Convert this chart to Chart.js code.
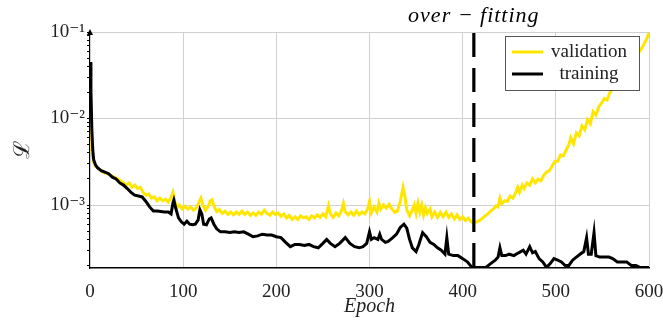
<!DOCTYPE html>
<html>
<head>
<meta charset="utf-8">
<script src="https://cdn.jsdelivr.net/npm/chart.js@4.4.1/dist/chart.umd.min.js"></script>
<style>
  html, body { margin: 0; padding: 0; background: #fff; }
  canvas { display: block; }
</style>
</head>
<body>
<canvas id="chart" width="663" height="324"></canvas>
<script>
// validation loss
const valEpochs = [
  0, 1, 2, 3, 4, 6, 10, 14, 18, 22,
  26, 30, 33, 36, 39, 42, 45, 48, 51, 54,
  57, 60, 63, 66, 69, 72, 75, 78, 81, 84,
  87, 89, 91, 93, 96, 99, 102, 105, 108, 111,
  114, 117, 119, 121, 124, 127, 129, 131, 133, 136,
  139, 142, 145, 148, 151, 154, 157, 160, 163, 166,
  169, 172, 175, 178, 181, 184, 187, 190, 193, 196,
  199, 202, 205, 208, 211, 214, 217, 220, 223, 226,
  229, 232, 235, 238, 241, 244, 247, 250, 253, 256,
  258, 261, 264, 267, 270, 272, 274, 277, 280, 283,
  286, 289, 292, 295, 298, 300, 302, 305, 308, 310,
  312, 315, 318, 321, 324, 327, 330, 333, 336, 338,
  340, 343, 346, 348, 350, 352, 354, 356, 358, 360,
  362, 365, 367, 370, 373, 376, 379, 382, 385, 388,
  391, 394, 397, 400, 403, 406, 409, 412, 415, 418,
  421, 424, 427, 430, 433, 436, 438, 440, 442, 445,
  448, 451, 454, 457, 459, 461, 464, 466, 469, 472,
  475, 478, 481, 484, 487, 490, 493, 496, 499, 502,
  505, 508, 511, 514, 516, 519, 522, 525, 528, 531,
  534, 537, 540, 543, 546, 549, 552, 555, 558, 561,
  564, 567, 570, 573, 576, 579, 582, 585, 588, 591,
  594, 597, 600
];
const valLoss = [
  .0077, .0056, .0043, .0035, .0031, .0028, .0026, .0024, .0023, .0022,
  .0021, .0020, .0019, .0018, .0017, .0018, .0016, .0017, .00155, .0016,
  .0014, .0013, .00134, .0012, .00124, .00112, .0012, .00112, .00117, .00108,
  .00122, .0014, .0011, .00092, .001, .0009, .00097, .0009, .00095, .00087,
  .00092, .00108, .0012, .001, .00087, .00097, .00112, .00115, .00097, .00084,
  .00088, .0008, .00085, .00078, .00083, .00077, .00083, .00078, .00085, .00078,
  .00083, .00076, .00081, .00076, .00083, .00078, .00087, .0008, .00076, .00083,
  .00078, .00081, .00074, .00079, .00071, .00076, .00068, .00073, .00068, .00075,
  .00071, .00073, .00068, .00075, .00071, .00077, .00072, .00079, .00073, .00098,
  .00079, .00072, .00081, .00075, .00086, .00104, .00083, .00077, .00083, .00076,
  .00085, .00077, .00083, .00079, .0009, .0011, .00081, .00095, .00083, .00105,
  .0009, .001, .00092, .00102, .0009, .00082, .00085, .0011, .0016, .00125,
  .00088, .00075, .00088, .001, .0008, .00105, .00083, .001, .00077, .00093,
  .0008, .0009, .00073, .00083, .00072, .00082, .00073, .00083, .00072, .00079,
  .00069, .00077, .00068, .00073, .00066, .0007, .00064, .00062, .00064, .00066,
  .0007, .00075, .00079, .00085, .0009, .00098, .00095, .0012, .00103, .00112,
  .0011, .00127, .0012, .0014, .0016, .0014, .0017, .00155, .0018, .0017,
  .002, .0018, .002, .0019, .0022, .0024, .0025, .0028, .0032, .0032,
  .0038, .0037, .0043, .005, .006, .0051, .0068, .0063, .0082, .0074,
  .0097, .0087, .012, .011, .0136, .015, .017, .0164, .020, .022,
  .0244, .0264, .030, .0327, .0364, .0394, .045, .0488, .0557, .0619,
  .0708, .0809, .098
];

// training loss
const trainEpochs = [
  0, 1, 2, 3, 4, 6, 8, 12, 16, 20,
  24, 28, 32, 36, 40, 44, 48, 52, 56, 60,
  64, 68, 72, 76, 80, 84, 87, 89, 90, 92,
  95, 98, 101, 104, 107, 110, 113, 116, 118, 120,
  122, 125, 128, 130, 133, 136, 140, 145, 150, 155,
  160, 165, 170, 175, 180, 185, 190, 195, 200, 205,
  210, 215, 220, 225, 230, 235, 240, 245, 250, 254,
  258, 263, 268, 274, 279, 284, 289, 293, 297, 300,
  302, 305, 309, 311, 313, 317, 320, 325, 329, 333,
  337, 340, 343, 346, 350, 353, 357, 361, 365, 369,
  373, 377, 381, 383, 385, 390, 395, 400, 405, 410,
  415, 420, 425, 430, 435, 438, 440, 442, 446, 450,
  455, 460, 465, 468, 472, 475, 478, 482, 486, 490,
  494, 498, 502, 506, 510, 514, 518, 522, 526, 530,
  533, 535, 538, 541, 543, 547, 552, 557, 561, 566,
  571, 576, 581, 586, 590, 595, 600
];
const trainLoss = [
  .045, .021, .0073, .0043, .0033, .0029, .0027, .0025, .0024, .0023,
  .0021, .0020, .0018, .0017, .00155, .0014, .0013, .00127, .00124, .0011,
  .00095, .00085, .00085, .00084, .00083, .00083, .00079, .00105, .00114, .00092,
  .00071, .00064, .0006, .00065, .0006, .00059, .0006, .00067, .00088, .00079,
  .0006, .00059, .00069, .00071, .0006, .00053, .00049, .00049, .00048, .00049,
  .00048, .00049, .00046, .00043, .00044, .00046, .00045, .00045, .00043, .00042,
  .00037, .00033, .00035, .00035, .00034, .00035, .00033, .00032, .00036, .0004,
  .00036, .00033, .00036, .00042, .00036, .00033, .00032, .00033, .00036, .00049,
  .0004, .00042, .0004, .00046, .0004, .00037, .00038, .00042, .00046, .00055,
  .0006, .00054, .0004, .00032, .00029, .00035, .00048, .00043, .00037, .00035,
  .00032, .0003, .00027, .00042, .00027, .00026, .00026, .00024, .00022, .00019,
  .00019, .00019, .00019, .00021, .00023, .00025, .00032, .00026, .00026, .00027,
  .00026, .00028, .0003, .00027, .00033, .00028, .00029, .00024, .00022, .00019,
  .00021, .00024, .00023, .00022, .0002, .0002, .00023, .00025, .00027, .00029,
  .00042, .00027, .00027, .00048, .00026, .00025, .00025, .00025, .00024, .00022,
  .00022, .00022, .0002, .0002, .00019, .00019, .00019
];

const seriesLabels = ['validation', 'training'];
const seriesColors = ['#ffe600', '#000000'];
const yMajor = [1e-1, 1e-2, 1e-3];
const yLabels = ['10\u207B\u00B9', '10\u207B\u00B2', '10\u207B\u00B3'];
const yMin = 1.87e-4, yMax = 1e-1;
const overfitEpoch = 412;
const overfitLabel = 'over \u2212 fitting';

const serif = '"Liberation Serif", "DejaVu Serif", serif';

function pairs(xs, ys) {
  return xs.map((x, i) => ({ x: x, y: ys[i] }));
}
function isMajor(v) {
  return yMajor.some(m => Math.abs(Math.log10(v) - Math.log10(m)) < 1e-6);
}

const overlay = {
  id: 'overlay',
  afterDatasetsDraw(chart) {
    const { ctx, chartArea: a, scales: { x } } = chart;
    const px = x.getPixelForValue(overfitEpoch);
    ctx.save();
    ctx.strokeStyle = '#000';
    ctx.lineWidth = 3.2;
    ctx.setLineDash([24, 11]);
    ctx.beginPath();
    ctx.moveTo(px, a.top + 1);
    ctx.lineTo(px, a.bottom);
    ctx.stroke();
    ctx.setLineDash([]);
    ctx.font = 'italic 22px ' + serif;
    ctx.letterSpacing = '1px';
    ctx.fillStyle = '#000';
    ctx.textAlign = 'center';
    ctx.textBaseline = 'alphabetic';
    ctx.fillText(overfitLabel, px, 22);
    ctx.restore();
  },
  afterDraw(chart) {
    const { ctx, chartArea: a } = chart;
    ctx.save();
    // arrow on top of the y axis
    ctx.fillStyle = '#000';
    ctx.beginPath();
    ctx.moveTo(a.left, a.top - 3);
    ctx.lineTo(a.left - 3, a.top + 3);
    ctx.lineTo(a.left + 3, a.top + 3);
    ctx.closePath();
    ctx.fill();

    // legend box in the upper right corner
    const bx = a.right - 144, by = a.top + 4, bw = 134, bh = 54;
    ctx.fillStyle = '#fff';
    ctx.fillRect(bx, by, bw, bh);
    ctx.strokeStyle = '#555';
    ctx.lineWidth = 1;
    ctx.strokeRect(bx + 0.5, by + 0.5, bw, bh);
    ctx.font = '19px ' + serif;
    ctx.textAlign = 'center';
    ctx.textBaseline = 'alphabetic';
    seriesLabels.forEach((lab, i) => {
      const cy = by + 16 + i * 22;
      ctx.strokeStyle = seriesColors[i];
      ctx.lineWidth = 3;
      ctx.beginPath();
      ctx.moveTo(bx + 7, cy);
      ctx.lineTo(bx + 38, cy);
      ctx.stroke();
      ctx.fillStyle = '#222';
      ctx.fillText(lab, bx + 84, cy + 5);
    });
    ctx.restore();
  }
};

new Chart(document.getElementById('chart'), {
  type: 'line',
  data: {
    datasets: [
      {
        label: seriesLabels[0],
        data: pairs(valEpochs, valLoss),
        borderColor: seriesColors[0],
        borderWidth: 3,
        pointRadius: 0,
        tension: 0,
        order: 1
      },
      {
        label: seriesLabels[1],
        data: pairs(trainEpochs, trainLoss),
        borderColor: seriesColors[1],
        borderWidth: 3,
        pointRadius: 0,
        tension: 0,
        order: 0
      }
    ]
  },
  options: {
    responsive: false,
    animation: false,
    devicePixelRatio: 1,
    layout: { padding: { top: 32, right: 14, bottom: 0, left: 0 } },
    plugins: {
      legend: { display: false },
      tooltip: { enabled: false }
    },
    scales: {
      x: {
        type: 'linear',
        min: 0,
        max: 600,
        afterFit: s => { s.height = 56; s.paddingLeft = 0; s.paddingRight = 0; },
        ticks: {
          stepSize: 100,
          padding: 13,
          color: '#222',
          font: { family: serif, size: 19 }
        },
        grid: {
          drawTicks: false,
          color: c => (c.tick && c.tick.value === 0) ? 'rgba(0,0,0,0)' : '#d0d0d0'
        },
        border: { color: '#000', width: 1.6 },
        title: {
          display: true,
          text: 'Epoch',
          color: '#222',
          font: { family: serif, size: 20, style: 'italic' },
          padding: { top: 0, bottom: 5 }
        }
      },
      y: {
        type: 'logarithmic',
        min: yMin,
        max: yMax,
        afterFit: s => { s.width = 90; s.paddingTop = 0; s.paddingBottom = 0; },
        afterBuildTicks: s => {
          const t = [];
          for (let e = -4; e <= -2; e++) {
            for (let m = 1; m <= 9; m++) {
              const v = m * Math.pow(10, e);
              if (v >= yMin && v <= yMax) t.push({ value: v });
            }
          }
          t.push({ value: yMax });
          s.ticks = t;
        },
        ticks: {
          autoSkip: false,
          padding: 2,
          color: '#222',
          font: { family: serif, size: 19 },
          callback: v => {
            const i = yMajor.findIndex(m => Math.abs(Math.log10(v) - Math.log10(m)) < 1e-6);
            return i >= 0 ? yLabels[i] : '';
          }
        },
        grid: {
          tickLength: 3,
          tickColor: '#000',
          color: c => (c.tick && isMajor(c.tick.value)) ? '#d0d0d0' : 'rgba(0,0,0,0)'
        },
        border: { color: '#000', width: 1.2 },
        title: {
          display: true,
          text: '\u2112',
          color: '#222',
          font: { family: serif, size: 22 },
          padding: { top: 10, bottom: 0 }
        }
      }
    }
  },
  plugins: [overlay]
});
</script>
</body>
</html>
